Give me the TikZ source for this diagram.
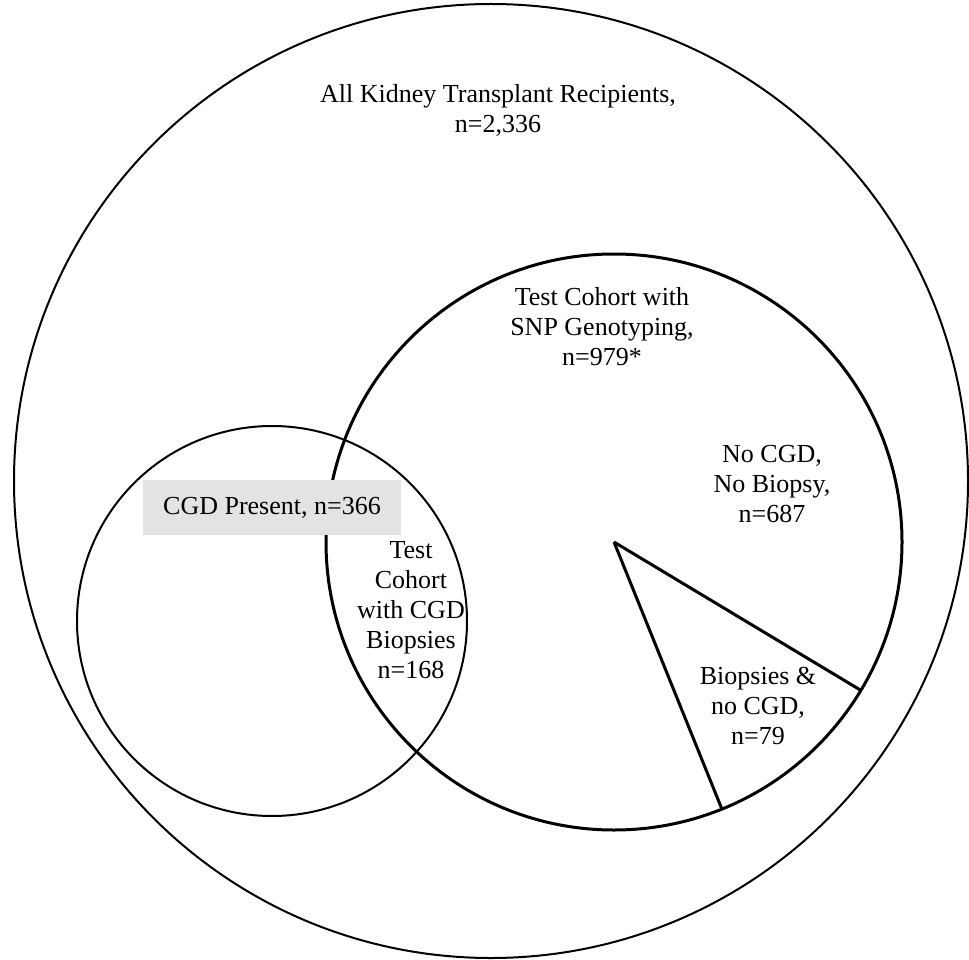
\documentclass[tikz,border=0pt]{standalone}
\usepackage{fontspec}
\setmainfont{Liberation Serif}
\usetikzlibrary{positioning}

\begin{document}
\begin{tikzpicture}[x=1pt, y=-1pt,
  ring/.style={draw, circle, inner sep=0pt, outer sep=0pt},
  lbl/.style={align=center, inner sep=0pt, font=\fontsize{26}{30}\selectfont},
  wedge/.style={line width=3pt}
]
  \useasboundingbox (0,0) rectangle (969,960);
  % Circles
  \node[ring, line width=2pt, minimum size=954pt] (all) at (491,481) {};
  \node[ring, line width=3pt, minimum size=576pt] (snp) at (614,542) {};
  \node[ring, line width=2pt, minimum size=390pt] (cgd) at (272,621) {};

  % Pie slice
  \draw[wedge] (snp.center) -- (snp.-31);
  \draw[wedge] (snp.center) -- (snp.-68);

  % Labels
  \node[lbl] (allLbl) at (498,110) {All Kidney Transplant Recipients,\\ n=2,336};
  \node[lbl] (snpLbl) at (602,327) {Test Cohort with\\ SNP Genotyping,\\ n=979*};
  \node[lbl] (noneLbl) at (772,484) {No CGD,\\ No Biopsy,\\ n=687};
  \node[lbl] (bothLbl) at (411,610) {Test\\ Cohort\\ with CGD\\ Biopsies\\ n=168};
  \node[lbl] (bxLbl) at (758,706) {Biopsies \&\\ no CGD,\\ n=79};
  \node[lbl, fill=gray!22, minimum width=258pt, minimum height=55pt] (cgdLbl) at (272,507.5) {CGD Present, n=366};
\end{tikzpicture}
\end{document}
